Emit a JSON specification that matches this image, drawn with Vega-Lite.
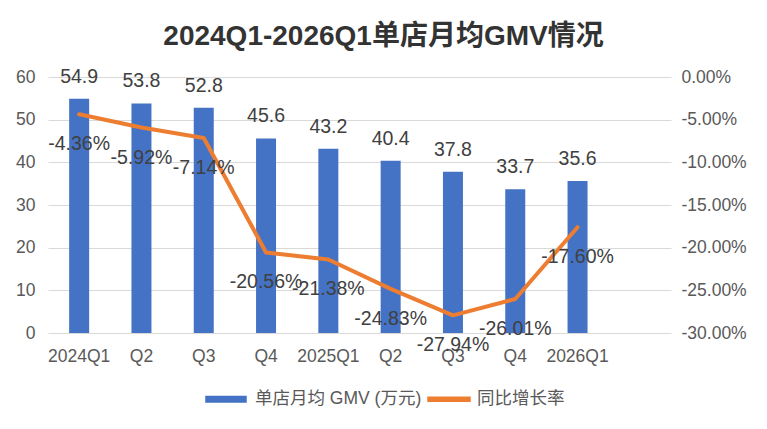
{
  "$schema": "https://vega.github.io/schema/vega-lite/v6.json",
  "width": 623,
  "height": 256,
  "autosize": {"type": "none"},
  "padding": {"left": 48, "top": 77, "right": 96, "bottom": 96},
  "background": "white",
  "title": {
    "text": "2024Q1-2026Q1单店月均GMV情况",
    "fontSize": 28,
    "fontWeight": "bold",
    "color": "#333333",
    "font": "Liberation Sans, Noto Sans CJK SC",
    "anchor": "middle",
    "dx": 24,
    "baseline": "alphabetic",
    "offset": -6
  },
  "config": {
    "locale": {
      "number": {"decimal": ".", "thousands": ",", "grouping": [3], "currency": ["$", ""], "minus": "-", "percent": "%"}
    },
    "view": {"stroke": null},
    "font": "Liberation Sans, Noto Sans CJK SC",
    "axis": {
      "labelFont": "Liberation Sans, Noto Sans CJK SC",
      "labelFontSize": 17.5,
      "labelColor": "#595959",
      "domain": false,
      "ticks": false,
      "title": null,
      "gridColor": "#d9d9d9",
      "gridWidth": 1
    }
  },
  "data": {
    "values": [
      {"q": "2024Q1", "gmv": 54.9, "rate": -0.0436},
      {"q": "2024Q2", "gmv": 53.8, "rate": -0.0592},
      {"q": "2024Q3", "gmv": 52.8, "rate": -0.0714},
      {"q": "2024Q4", "gmv": 45.6, "rate": -0.2056},
      {"q": "2025Q1", "gmv": 43.2, "rate": -0.2138},
      {"q": "2025Q2", "gmv": 40.4, "rate": -0.2483},
      {"q": "2025Q3", "gmv": 37.8, "rate": -0.2794},
      {"q": "2025Q4", "gmv": 33.7, "rate": -0.2601},
      {"q": "2026Q1", "gmv": 35.6, "rate": -0.176}
    ]
  },
  "encoding": {
    "x": {
      "field": "q",
      "type": "nominal",
      "sort": null,
      "scale": {
        "domain": ["2024Q1", "2024Q2", "2024Q3", "2024Q4", "2025Q1", "2025Q2", "2025Q3", "2025Q4", "2026Q1", "pad"],
        "paddingInner": 0,
        "paddingOuter": 0
      },
      "axis": {
        "labelAngle": 0,
        "labelPadding": 14,
        "grid": false,
        "labelExpr": "datum.value === 'pad' ? '' : (indexof(['2024Q1','2025Q1','2026Q1'], datum.value) >= 0 ? datum.value : slice(datum.value, 4))"
      }
    }
  },
  "layer": [
    {
      "encoding": {
        "y": {
          "field": "gmv",
          "type": "quantitative",
          "scale": {"domain": [0, 60], "nice": false},
          "axis": {"orient": "left", "values": [0, 10, 20, 30, 40, 50, 60], "grid": true, "labelPadding": 13}
        }
      },
      "layer": [
        {
          "mark": {"type": "bar", "width": 20, "color": "#4472C4"},
          "encoding": {
            "color": {
              "datum": "单店月均 GMV (万元)",
              "type": "nominal",
              "scale": {"domain": ["单店月均 GMV (万元)", "同比增长率"], "range": ["#4472C4", "#ED7D31"]},
              "legend": {
                "orient": "none",
                "legendX": 157,
                "legendY": 301,
                "direction": "horizontal",
                "title": null,
                "padding": 0,
                "symbolSize": 1600,
                "labelOffset": 8,
                "columnPadding": 3,
                "labelLimit": 400,
                "labelFont": "Liberation Sans, Noto Sans CJK SC",
                "labelFontSize": 17.5,
                "labelColor": "#595959",
                "encode": {
                  "symbols": {
                    "update": {
                      "shape": {"signal": "datum.label === '同比增长率' ? 'M-1,-0.1H1.1V0.1H-1Z' : 'M-1,-0.14H1V0.14H-1Z'"},
                      "fill": {"signal": "datum.label === '同比增长率' ? '#ED7D31' : '#4472C4'"},
                      "stroke": {"value": "transparent"},
                      "fillOpacity": {"value": 1}
                    }
                  }
                }
              }
            }
          }
        },
        {
          "mark": {"type": "text", "baseline": "middle", "dy": -22, "fontSize": 19.5, "color": "#404040"},
          "encoding": {
            "text": {"field": "gmv", "type": "quantitative", "format": ".1f"}
          }
        }
      ]
    },
    {
      "encoding": {
        "y": {
          "field": "rate",
          "type": "quantitative",
          "scale": {"domain": [-0.3, 0], "nice": false},
          "axis": {"orient": "right", "values": [0, -0.05, -0.1, -0.15, -0.2, -0.25, -0.3], "format": ".2%", "grid": false, "labelPadding": 10}
        }
      },
      "layer": [
        {
          "mark": {"type": "line", "strokeWidth": 4, "strokeCap": "round", "strokeJoin": "round"},
          "encoding": {
            "color": {"datum": "同比增长率", "type": "nominal"}
          }
        },
        {
          "mark": {"type": "text", "baseline": "middle", "dy": 30, "fontSize": 19.5, "color": "#404040"},
          "encoding": {
            "text": {"field": "rate", "type": "quantitative", "format": ".2%"}
          }
        }
      ]
    }
  ],
  "resolve": {"scale": {"y": "independent"}}
}
